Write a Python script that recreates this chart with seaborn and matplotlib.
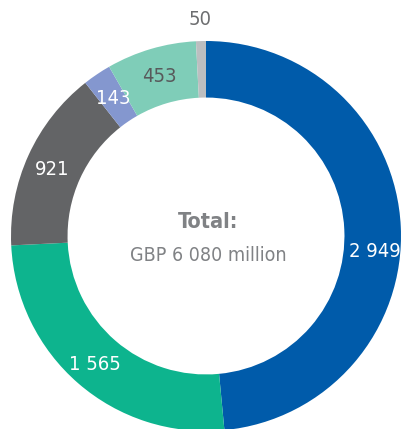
import numpy as np
import matplotlib
matplotlib.use("Agg")
import matplotlib.pyplot as plt
import seaborn as sns

# ----------------------------
# data (clockwise from 12 o'clock)
# ----------------------------
labels = ["2 949", "1 565", "921", "143", "453", "50"]
values = [2949, 1565, 921, 143, 453, 50]
hex_colors = ["#005baa", "#0db48e", "#636466", "#8497cf", "#7fcdb8", "#bcbec0"]
text_colors = ["white", "white", "white", "white", "#58595b", "#6d6e70"]
total_title = "Total:"
total_text = "GBP 6 080 million"

sns.set_theme(style="white")
plt.rcParams["font.family"] = ["DejaVu Sans"]
plt.rcParams["font.stretch"] = "condensed"

palette = sns.color_palette(hex_colors)

fig = plt.figure(figsize=(4.04, 4.29), dpi=100)
ax = fig.add_axes([0, 0, 1, 1])

ring_w = 0.29
wedges, _ = ax.pie(
    values,
    colors=palette,
    startangle=90,
    counterclock=False,
    radius=1.0,
    wedgeprops=dict(width=ring_w, linewidth=0),
)

# labels in the middle of the ring, small slice ("50") outside
label_r = [0.87, 0.87, 0.86, 0.85, 0.85, 1.11]
angle_nudge = [-8, 0, 1, 0, 0, 0]
for w, lab, r, nd, tc in zip(wedges, labels, label_r, angle_nudge, text_colors):
    ang = np.deg2rad((w.theta1 + w.theta2) / 2 + nd)
    ax.text(r * np.cos(ang), r * np.sin(ang), lab, ha="center", va="center",
            color=tc, fontsize=14.5, fontstretch="condensed")

ax.text(0.01, 0.07, total_title, ha="center", va="center", color="#808285",
        fontsize=15.5, fontweight="bold", fontstretch="condensed")
ax.text(0.01, -0.10, total_text, ha="center", va="center", color="#808285",
        fontsize=14, fontstretch="condensed")

# centre of the ring sits at pixel (206, 236), radius ~195 px
px = 195.0
ax.set_xlim(-206 / px, (404 - 206) / px)
ax.set_ylim(-(429 - 236) / px, 236 / px)
ax.set_aspect("equal")
ax.axis("off")

fig.savefig("out.png", dpi=100)
plt.close(fig)
